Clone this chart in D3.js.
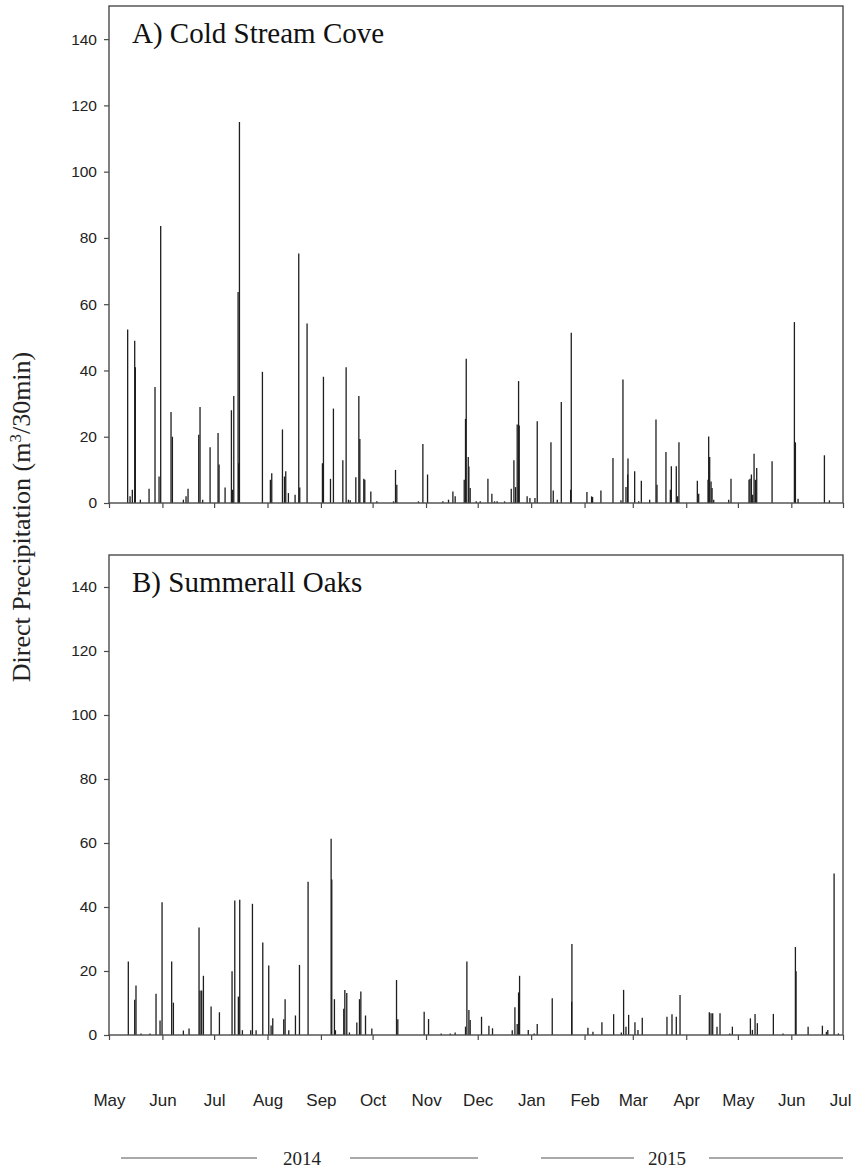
<!DOCTYPE html>
<html>
<head>
<meta charset="utf-8">
<script src="https://cdn.jsdelivr.net/npm/d3@7"></script>
<style>
  html, body { margin: 0; padding: 0; background: #fff; }
  svg { display: block; }
</style>
</head>
<body>
<svg id="chart" width="852" height="1171"></svg>
<script>
// Half-hourly direct precipitation peaks (m3/30min), [timestamp, value]
const coldStreamCove = [
  ["2014-05-11 20:00", 52.4], ["2014-05-13 05:00", 2], ["2014-05-14 13:00", 4],
  ["2014-05-15 22:00", 49], ["2014-05-16 07:00", 41], ["2014-05-19 05:00", 1],
  ["2014-05-24 06:00", 4.3], ["2014-05-27 17:00", 35], ["2014-05-30 01:00", 8],
  ["2014-05-31 00:00", 83.6], ["2014-06-06 00:00", 27.5], ["2014-06-06 19:00", 20],
  ["2014-06-13 04:00", 1], ["2014-06-14 17:00", 2], ["2014-06-15 21:00", 4.3],
  ["2014-06-22 02:00", 20.6], ["2014-06-22 20:00", 29], ["2014-06-24 09:00", 1],
  ["2014-06-28 16:00", 16.8], ["2014-07-03 07:00", 21.1], ["2014-07-03 21:00", 11.6],
  ["2014-07-07 09:00", 4.7], ["2014-07-11 01:00", 28], ["2014-07-11 16:00", 4],
  ["2014-07-12 10:00", 32.3], ["2014-07-14 22:00", 63.7], ["2014-07-15 06:00", 12],
  ["2014-07-15 17:00", 115], ["2014-07-29 01:00", 39.6], ["2014-08-02 16:00", 7],
  ["2014-08-03 11:00", 9], ["2014-08-09 16:00", 22.2], ["2014-08-10 20:00", 8],
  ["2014-08-11 14:00", 9.6], ["2014-08-13 03:00", 3], ["2014-08-17 00:00", 2.5],
  ["2014-08-19 03:00", 75.3], ["2014-08-19 17:00", 4.7], ["2014-08-23 23:00", 54.2],
  ["2014-09-01 21:00", 12], ["2014-09-02 11:00", 38.1], ["2014-09-06 13:00", 7.3],
  ["2014-09-08 06:00", 28.5], ["2014-09-13 17:00", 12.9], ["2014-09-15 15:00", 41],
  ["2014-09-16 23:00", 1], ["2014-09-18 00:00", 0.8], ["2014-09-21 06:00", 7.8],
  ["2014-09-23 00:00", 32.3], ["2014-09-23 14:00", 19.3], ["2014-09-25 21:00", 7.3],
  ["2014-09-26 11:00", 7], ["2014-09-29 23:00", 3.5], ["2014-10-03 11:00", 0.5],
  ["2014-10-13 03:00", 0.5], ["2014-10-14 07:00", 10], ["2014-10-15 01:00", 5.5],
  ["2014-10-27 15:00", 0.5], ["2014-10-30 04:00", 17.8], ["2014-11-01 21:00", 8.6],
  ["2014-11-10 18:00", 0.5], ["2014-11-14 01:00", 1], ["2014-11-16 14:00", 3.5],
  ["2014-11-17 22:00", 2], ["2014-11-23 04:00", 7], ["2014-11-23 22:00", 25.4],
  ["2014-11-24 08:00", 43.5], ["2014-11-25 12:00", 13.9], ["2014-11-25 21:00", 11],
  ["2014-11-26 15:00", 4.5], ["2014-11-30 03:00", 0.5], ["2014-12-02 11:00", 0.5],
  ["2014-12-06 22:00", 7.3], ["2014-12-09 05:00", 2.8], ["2014-12-10 18:00", 0.5],
  ["2014-12-12 06:00", 0.5], ["2014-12-16 14:00", 0.5], ["2014-12-20 11:00", 4.3],
  ["2014-12-22 00:00", 12.9], ["2014-12-22 23:00", 4.8], ["2014-12-23 22:00", 23.7],
  ["2014-12-24 17:00", 36.8], ["2014-12-25 02:00", 23.4], ["2014-12-29 16:00", 2],
  ["2014-12-31 07:00", 1.5], ["2015-01-03 05:00", 1.5], ["2015-01-04 13:00", 24.7],
  ["2015-01-12 12:00", 18.3], ["2015-01-13 20:00", 3.8], ["2015-01-16 04:00", 1],
  ["2015-01-18 12:00", 30.5], ["2015-01-23 22:00", 4], ["2015-01-24 07:00", 51.4],
  ["2015-02-02 09:00", 3.3], ["2015-02-05 02:00", 2], ["2015-02-05 16:00", 1.8],
  ["2015-02-10 12:00", 3.8], ["2015-02-17 12:00", 13.6], ["2015-02-22 03:00", 0.8],
  ["2015-02-23 07:00", 37.3], ["2015-02-25 01:00", 4.8], ["2015-02-26 00:00", 8.6],
  ["2015-02-26 05:00", 13.4], ["2015-03-02 02:00", 9.6], ["2015-03-04 10:00", 0.5],
  ["2015-03-05 23:00", 6.7], ["2015-03-10 19:00", 1], ["2015-03-14 11:00", 25.2],
  ["2015-03-15 01:00", 5.5], ["2015-03-20 06:00", 15.4], ["2015-03-22 19:00", 4],
  ["2015-03-23 09:00", 11.1], ["2015-03-26 06:00", 11.1], ["2015-03-27 01:00", 2],
  ["2015-03-27 19:00", 18.3], ["2015-04-07 11:00", 6.7], ["2015-04-08 06:00", 2.8],
  ["2015-04-13 16:00", 7], ["2015-04-14 01:00", 20.1], ["2015-04-14 15:00", 13.9],
  ["2015-04-15 10:00", 6.5], ["2015-04-16 00:00", 4.5], ["2015-04-16 23:00", 1],
  ["2015-04-25 16:00", 1], ["2015-04-27 00:00", 7.3], ["2015-05-07 11:00", 7],
  ["2015-05-08 01:00", 7.3], ["2015-05-08 20:00", 8.6], ["2015-05-09 14:00", 2.5],
  ["2015-05-10 09:00", 14.9], ["2015-05-11 04:00", 7], ["2015-05-11 22:00", 10.6],
  ["2015-05-20 20:00", 12.6], ["2015-06-02 19:00", 54.6], ["2015-06-03 09:00", 18.3],
  ["2015-06-04 22:00", 1.3], ["2015-06-20 05:00", 14.4], ["2015-06-23 03:00", 0.8]
];

const summerallOaks = [
  ["2014-05-12 05:00", 23], ["2014-05-15 22:00", 11], ["2014-05-16 16:00", 15.5],
  ["2014-05-19 14:00", 0.5], ["2014-05-24 19:00", 0.5], ["2014-05-28 07:00", 12.9],
  ["2014-05-30 15:00", 4.5], ["2014-05-31 19:00", 41.5], ["2014-06-06 09:00", 23],
  ["2014-06-07 09:00", 10.1], ["2014-06-13 04:00", 1.4], ["2014-06-16 11:00", 2],
  ["2014-06-22 06:00", 33.6], ["2014-06-22 20:00", 13.9], ["2014-06-23 19:00", 13.9],
  ["2014-06-24 19:00", 18.5], ["2014-06-29 06:00", 8.9], ["2014-07-04 02:00", 7.1],
  ["2014-07-11 10:00", 19.9], ["2014-07-13 00:00", 42], ["2014-07-15 02:00", 12],
  ["2014-07-15 21:00", 42.3], ["2014-07-17 10:00", 1.5], ["2014-07-22 06:00", 1.5],
  ["2014-07-23 06:00", 41], ["2014-07-25 09:00", 1.5], ["2014-07-29 06:00", 28.9],
  ["2014-08-01 17:00", 21.7], ["2014-08-03 02:00", 3], ["2014-08-04 01:00", 5.2],
  ["2014-08-10 10:00", 4.9], ["2014-08-11 05:00", 11.2], ["2014-08-13 08:00", 1.5],
  ["2014-08-17 05:00", 6.1], ["2014-08-19 13:00", 21.9], ["2014-08-24 13:00", 47.9],
  ["2014-09-06 22:00", 61.3], ["2014-09-07 07:00", 48.6], ["2014-09-08 20:00", 11.2],
  ["2014-09-09 10:00", 1.5], ["2014-09-14 06:00", 8.2], ["2014-09-14 21:00", 14.1],
  ["2014-09-16 00:00", 13.1], ["2014-09-17 13:00", 0.8], ["2014-09-21 20:00", 3.9],
  ["2014-09-23 09:00", 11.2], ["2014-09-24 04:00", 13.6], ["2014-09-26 21:00", 6.1],
  ["2014-09-30 13:00", 2], ["2014-10-14 21:00", 17.2], ["2014-10-15 15:00", 4.9],
  ["2014-10-30 22:00", 7.3], ["2014-11-02 11:00", 5], ["2014-11-09 19:00", 0.5],
  ["2014-11-15 01:00", 0.5], ["2014-11-17 22:00", 0.8], ["2014-11-23 22:00", 2.6],
  ["2014-11-24 17:00", 23], ["2014-11-25 21:00", 7.8], ["2014-11-26 15:00", 4.7],
  ["2014-12-03 05:00", 5.7], ["2014-12-07 12:00", 2.9], ["2014-12-09 14:00", 2.1],
  ["2014-12-21 01:00", 1.5], ["2014-12-22 14:00", 8.7], ["2014-12-23 22:00", 3.4],
  ["2014-12-24 17:00", 13.3], ["2014-12-25 07:00", 18.5], ["2014-12-30 08:00", 1.6],
  ["2015-01-02 19:00", 0.5], ["2015-01-04 13:00", 3.4], ["2015-01-13 06:00", 11.5],
  ["2015-01-24 12:00", 10.4], ["2015-01-24 16:00", 28.4], ["2015-02-02 23:00", 2.3],
  ["2015-02-05 21:00", 1], ["2015-02-11 02:00", 4], ["2015-02-17 21:00", 6.5],
  ["2015-02-22 08:00", 0.8], ["2015-02-23 16:00", 14.1], ["2015-02-25 01:00", 2.6],
  ["2015-02-26 14:00", 6.3], ["2015-03-02 06:00", 4], ["2015-03-04 00:00", 1.6],
  ["2015-03-06 12:00", 5.4], ["2015-03-20 20:00", 5.7], ["2015-03-23 18:00", 6.5],
  ["2015-03-26 06:00", 5.7], ["2015-03-28 10:00", 12.5], ["2015-04-14 10:00", 7.1],
  ["2015-04-15 10:00", 6.8], ["2015-04-16 09:00", 6.8], ["2015-04-18 21:00", 2.6],
  ["2015-04-20 15:00", 6.8], ["2015-04-26 06:00", 0.5], ["2015-04-27 19:00", 2.6],
  ["2015-05-08 06:00", 5.2], ["2015-05-09 10:00", 1.6], ["2015-05-10 23:00", 6.6],
  ["2015-05-12 07:00", 3.7], ["2015-05-21 14:00", 6.6], ["2015-05-27 05:00", 0.5],
  ["2015-06-03 09:00", 27.5], ["2015-06-03 18:00", 19.9], ["2015-06-10 18:00", 2.6],
  ["2015-06-19 01:00", 2.9], ["2015-06-21 09:00", 1], ["2015-06-22 04:00", 1.6],
  ["2015-06-25 20:00", 50.5], ["2015-06-28 08:00", 0.5]
];

const panelTitles = ["A) Cold Stream Cove", "B) Summerall Oaks"];
const yTickValues = [0, 20, 40, 60, 80, 100, 120, 140];
const yMax = 150;
const timeStart = "2014-05-01 00:00";
const timeEnd = "2015-07-01 00:00";
const yearLabels = ["2014", "2015"];

const parse = d3.timeParse("%Y-%m-%d %H:%M");
const svg = d3.select("#chart");
const width = +svg.attr("width");

const sansFont = "'Liberation Sans', Arial, sans-serif";
const serifFont = "'Liberation Serif', 'Times New Roman', serif";
const ink = "#222";
const frameColor = "#4a4a4a";

const left = 109, right = 843;
const x = d3.scaleTime()
  .domain([parse(timeStart), parse(timeEnd)])
  .range([left, right]);

const panels = [
  { title: panelTitles[0], data: coldStreamCove, top: 6, bottom: 503, labels: false },
  { title: panelTitles[1], data: summerallOaks, top: 555, bottom: 1035, labels: true }
];

panels.forEach(p => {
  const y = d3.scaleLinear().domain([0, yMax]).range([p.bottom, p.top]);
  const g = svg.append("g");

  // spikes
  g.append("g")
    .selectAll("line")
    .data(p.data)
    .join("line")
    .attr("x1", d => x(parse(d[0])))
    .attr("x2", d => x(parse(d[0])))
    .attr("y1", y(0))
    .attr("y2", d => y(d[1]))
    .attr("stroke", "#1e1e1e")
    .attr("stroke-width", 1.3);

  // frame
  g.append("rect")
    .attr("x", left).attr("y", p.top)
    .attr("width", right - left).attr("height", p.bottom - p.top)
    .attr("fill", "none")
    .attr("stroke", frameColor)
    .attr("stroke-width", 1.4);

  // y axis
  const yAxis = g.append("g")
    .attr("transform", `translate(${left},0)`)
    .call(d3.axisLeft(y).tickValues(yTickValues).tickSize(5).tickPadding(7));
  yAxis.select(".domain").remove();
  yAxis.selectAll(".tick line").attr("stroke", frameColor).attr("stroke-width", 1.2);
  yAxis.selectAll(".tick text")
    .attr("font-family", sansFont).attr("font-size", 15.5).attr("fill", ink);

  // x axis
  const xAxis = g.append("g")
    .attr("transform", `translate(0,${p.bottom})`)
    .call(d3.axisBottom(x)
      .ticks(d3.timeMonth.every(1))
      .tickSize(5)
      .tickPadding(54)
      .tickFormat(p.labels ? d3.timeFormat("%b") : () => ""));
  xAxis.select(".domain").remove();
  xAxis.selectAll(".tick line").attr("stroke", frameColor).attr("stroke-width", 1.2);
  const monthText = xAxis.selectAll(".tick text")
    .attr("font-family", sansFont).attr("font-size", 17).attr("fill", ink);

  // keep the last month label inside the page edge
  if (p.labels) {
    monthText.each(function () {
      const box = this.getBBox();
      const tickX = x(d3.select(this).datum());
      const overflow = tickX + box.x + box.width - (width - 1);
      if (overflow > 0) d3.select(this).attr("dx", -overflow);
    });
  }

  // panel title
  g.append("text")
    .attr("x", left + 23)
    .attr("y", p.top + 37)
    .attr("font-family", serifFont)
    .attr("font-size", 29)
    .attr("fill", "#111")
    .text(p.title);
});

// shared y-axis title
const yTitle = svg.append("text")
  .attr("transform", "translate(30,517) rotate(-90)")
  .attr("text-anchor", "middle")
  .attr("font-family", serifFont)
  .attr("font-size", 26)
  .attr("fill", ink);
yTitle.append("tspan").text("Direct Precipitation (m");
yTitle.append("tspan").attr("dy", -9).attr("font-size", 17).text("3");
yTitle.append("tspan").attr("dy", 9).text("/30min)");

// year spans below the month labels
const yearRow = [
  { label: yearLabels[0], cx: 302, l1: [121, 257], l2: [350, 478] },
  { label: yearLabels[1], cx: 667, l1: [541, 634], l2: [709, 843] }
];
const yearY = 1158;
yearRow.forEach(r => {
  [r.l1, r.l2].forEach(seg => {
    svg.append("line")
      .attr("x1", seg[0]).attr("x2", seg[1])
      .attr("y1", yearY).attr("y2", yearY)
      .attr("stroke", "#555").attr("stroke-width", 1.1);
  });
  svg.append("text")
    .attr("x", r.cx).attr("y", yearY + 7)
    .attr("text-anchor", "middle")
    .attr("font-family", serifFont)
    .attr("font-size", 19)
    .attr("fill", ink)
    .text(r.label);
});
</script>
</body>
</html>
